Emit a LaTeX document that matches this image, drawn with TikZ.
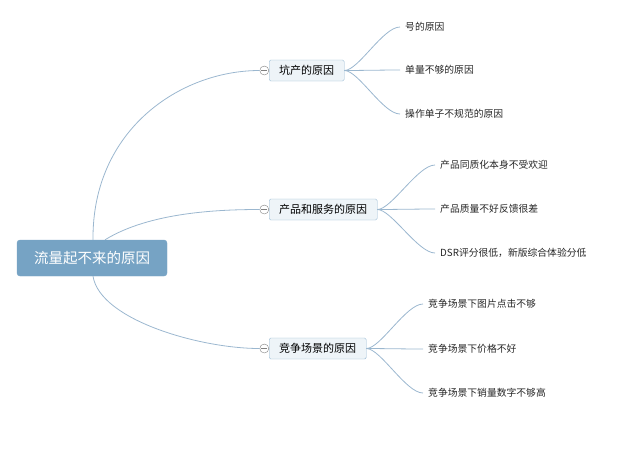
\documentclass[tikz,border=0pt]{standalone}
\usepackage{fontspec}
\setmainfont{Noto Sans CJK SC}
\usetikzlibrary{positioning}
\definecolor{linecol}{HTML}{9BB7CF}
\definecolor{rootcol}{HTML}{76A3C4}
\definecolor{boxcol}{HTML}{EEF4F8}
\tikzset{
  rootbox/.style={draw=rootcol,fill=rootcol,rounded corners=3pt,text=white,
    minimum width=150pt,minimum height=36pt,font=\fontsize{14.5}{15}\selectfont},
  branchbox/.style={draw=rootcol!80,fill=boxcol,rounded corners=1.5pt,
    minimum height=21pt,inner xsep=10pt,font=\fontsize{11}{12}\selectfont},
  leaf/.style={anchor=west,inner sep=0pt,font=\fontsize{9.8}{11}\selectfont,text=black!85},
  link/.style={draw=linecol,line width=0.8pt},
  fold/.style={circle,draw=gray,fill=white,inner sep=0pt,minimum size=9pt}
}
\begin{document}
\begin{tikzpicture}[x=1pt,y=-1pt]
  \useasboundingbox (0,0) rectangle (620,475);
  % root
  \node[rootbox] (root) at (92,258) {流量起不来的原因};
  % branches
  \node[branchbox,anchor=west] (b1) at (269,70.5) {坑产的原因};
  \node[branchbox,anchor=west] (b2) at (269,209.5) {产品和服务的原因};
  \node[branchbox,anchor=west] (b3) at (269,348.5) {竞争场景的原因};
  \foreach \b in {b1,b2,b3}
    \node[fold,left=0pt of \b] (f\b) {};
  \foreach \b in {b1,b2,b3}
    \draw[gray] ([xshift=-3pt]f\b.center) -- ([xshift=3pt]f\b.center);
  % leaves
  \node[leaf] (l11) at (405,27) {号的原因};
  \node[leaf] (l12) at (405,70) {单量不够的原因};
  \node[leaf] (l13) at (405,114) {操作单子不规范的原因};
  \node[leaf] (l21) at (440,165) {产品同质化本身不受欢迎};
  \node[leaf] (l22) at (440,209) {产品质量不好反馈很差};
  \node[leaf] (l23) at (440,253) {DSR评分很低，新版综合体验分低};
  \node[leaf] (l31) at (428,304) {竞争场景下图片点击不够};
  \node[leaf] (l32) at (428,349) {竞争场景下价格不好};
  \node[leaf] (l33) at (428,393) {竞争场景下销量数字不够高};
  % root links
  \draw[link] ([xshift=1pt]root.north) .. controls (92,130) and (180,70.5) .. (fb1.west);
  \draw[link] ([xshift=13pt]root.north) .. controls (150,212) and (220,209.5) .. (fb2.west);
  \draw[link] ([xshift=1pt]root.south) .. controls (100,320) and (200,348.5) .. (fb3.west);
  % leaf links
  \foreach \b/\l in {b1/l11,b1/l12,b1/l13,b2/l21,b2/l22,b2/l23,b3/l31,b3/l32,b3/l33}
    \draw[link] (\b.east) .. controls ([xshift=14pt]\b.east) and ([xshift=-22pt]\l.west) .. ([xshift=-5pt]\l.west);
\end{tikzpicture}
\end{document}
